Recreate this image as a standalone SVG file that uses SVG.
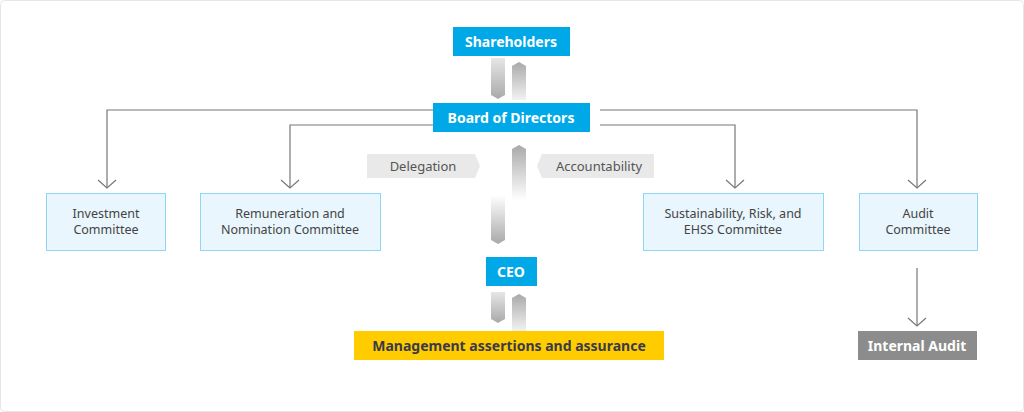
<svg xmlns="http://www.w3.org/2000/svg" width="1024" height="412" viewBox="0 0 1024 412">
<defs>
<style>
.t{font-family:"Noto Sans","Open Sans",sans-serif}
.blue{fill:#00a8e8}
.wt{fill:#fff;font-weight:bold;font-size:14px;text-anchor:middle}
.comm{fill:#e9f6fd;stroke:#8fd6f4;stroke-width:1}
.ct{fill:#444;font-size:12.5px;text-anchor:middle}
.ln{fill:none;stroke:#777;stroke-width:1.2}
</style>
<linearGradient id="gd" x1="0" y1="0" x2="0" y2="1"><stop offset="0" stop-color="#e6e6e6"/><stop offset="1" stop-color="#a9a9a9"/></linearGradient>
<linearGradient id="gu" x1="0" y1="1" x2="0" y2="0"><stop offset="0" stop-color="#f2f2f2"/><stop offset="1" stop-color="#a9a9a9"/></linearGradient>
<linearGradient id="gdl" x1="0" y1="0" x2="0" y2="1"><stop offset="0" stop-color="#fff"/><stop offset="1" stop-color="#a9a9a9"/></linearGradient>
<linearGradient id="gul" x1="0" y1="1" x2="0" y2="0"><stop offset="0" stop-color="#fff"/><stop offset="1" stop-color="#a9a9a9"/></linearGradient>
<marker id="ah" markerWidth="14" markerHeight="10" refX="7" refY="9" orient="auto" markerUnits="userSpaceOnUse"><path d="M1,1 L7,9 L13,1" transform="rotate(-90 7 5)" fill="none" stroke="#777" stroke-width="1.2"/></marker>
</defs>
<rect x="0.5" y="0.5" width="1023" height="411" rx="4" fill="#fff" stroke="#e6e6e6"/>
<g id="connectors">
<path class="ln" d="M433,110 H107 V187"/>
<path class="ln" d="M98,180 L107,188 L116,180"/>
<path class="ln" d="M433,125 H290 V187"/>
<path class="ln" d="M281,180 L290,188 L299,180"/>
<path class="ln" d="M600,110 H917 V187"/>
<path class="ln" d="M908,180 L917,188 L926,180"/>
<path class="ln" d="M600,125 H735 V187"/>
<path class="ln" d="M726,180 L735,188 L744,180"/>
<path class="ln" d="M917,268 V326"/>
<path class="ln" d="M908,318 L917,326 L926,318"/>
<path d="M491,58 H505 V95 L498,99 L491,95 Z" fill="url(#gd)"/>
<path d="M512,100 V66 L519,62 L526,66 V100 Z" fill="url(#gu)"/>
<path d="M512,200 V149 L519,145 L526,149 V200 Z" fill="url(#gul)"/>
<path d="M491,195 H505 V240 L498,244 L491,240 Z" fill="url(#gdl)"/>
<path d="M491,292 H505 V319 L498,323 L491,319 Z" fill="url(#gd)"/>
<path d="M512,331 V298 L519,294 L526,298 V331 Z" fill="url(#gu)"/>
</g>
<g id="delegation"><path d="M367,154 H475 L480,166 L475,178 H367 Z" fill="#e9e9e9"/><text class="t" x="423" y="171" font-size="13" fill="#555" text-anchor="middle">Delegation</text></g>
<g id="accountability"><path d="M654,154 H542 L537,166 L542,178 H654 Z" fill="#e9e9e9"/><text class="t" x="599" y="171" font-size="13" fill="#555" text-anchor="middle">Accountability</text></g>
<g id="shareholders"><rect class="blue" x="453" y="27" width="117" height="29"/><text class="t wt" x="511" y="47">Shareholders</text></g>
<g id="board"><rect class="blue" x="433" y="103" width="157" height="29"/><text class="t wt" x="511" y="123">Board of Directors</text></g>
<g id="ceo"><rect class="blue" x="486" y="257" width="51" height="29"/><text class="t wt" x="511" y="277">CEO</text></g>
<g id="investment"><rect class="comm" x="46.5" y="193.5" width="119" height="57"/><text class="t ct" x="106" y="218">Investment</text><text class="t ct" x="106" y="234">Committee</text></g>
<g id="remuneration"><rect class="comm" x="200.5" y="193.5" width="180" height="57"/><text class="t ct" x="290" y="218">Remuneration and</text><text class="t ct" x="290" y="234">Nomination Committee</text></g>
<g id="sustainability"><rect class="comm" x="643.5" y="193.5" width="180" height="57"/><text class="t ct" x="733" y="218">Sustainability, Risk, and</text><text class="t ct" x="733" y="234">EHSS Committee</text></g>
<g id="audit"><rect class="comm" x="859.5" y="193.5" width="118" height="57"/><text class="t ct" x="918" y="218">Audit</text><text class="t ct" x="918" y="234">Committee</text></g>
<g id="management"><rect x="354" y="331" width="310" height="29" fill="#ffcc00"/><text class="t" x="509" y="351" font-size="14" font-weight="bold" fill="#3a3a4a" text-anchor="middle">Management assertions and assurance</text></g>
<g id="internal-audit"><rect x="858" y="331" width="119" height="29" fill="#8c8c8c"/><text class="t wt" x="917" y="351">Internal Audit</text></g>
</svg>
